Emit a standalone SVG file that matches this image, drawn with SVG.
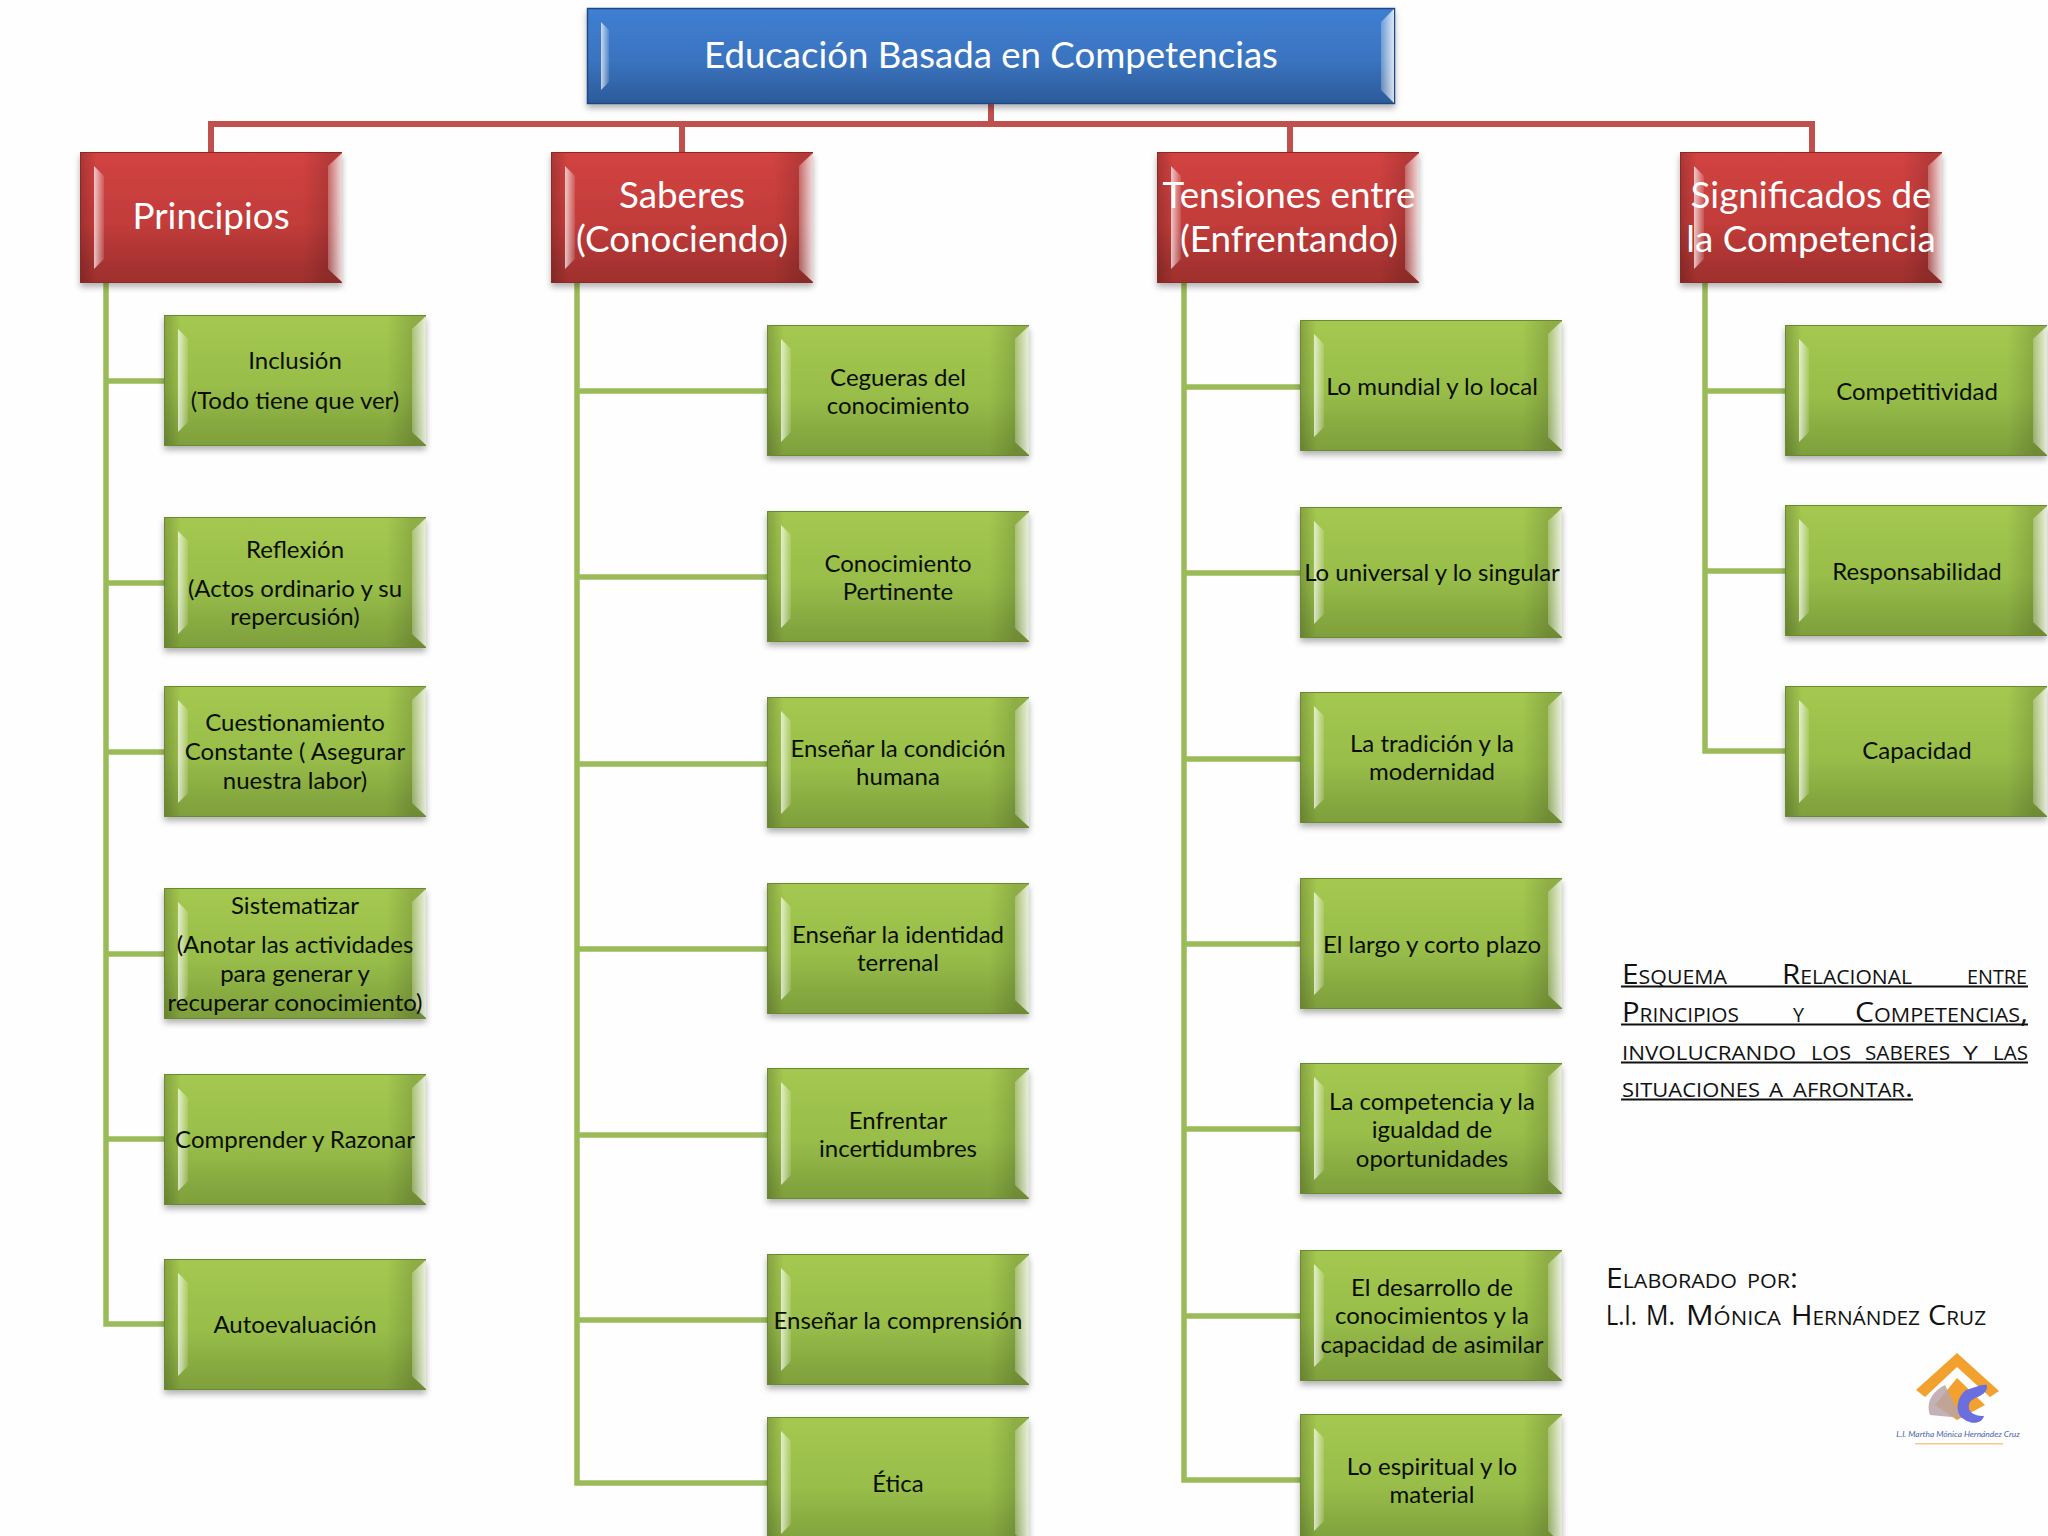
<svg xmlns="http://www.w3.org/2000/svg" width="2048" height="1536" viewBox="0 0 2048 1536">
<style>
.t{font-family:Lato,"Liberation Sans",sans-serif;text-anchor:middle}
.g text{font-size:24px;fill:#0a0f02;transform:translateY(1px)}
.r text{font-size:36.8px;fill:#fff;transform:translateY(1px)}
.b text{font-size:36.6px;fill:#fff;transform:translateY(1px)}
.red{fill:none;stroke:#c0504d;stroke-width:6}
.grn{fill:none;stroke:#9bbb59;stroke-width:5.5}
.sc{font-family:"Open Sans","Liberation Sans",sans-serif;font-variant:small-caps;font-size:28px;fill:#111}
.ul{fill:#111}
</style>
<defs>
<filter id="sh" x="-5%" y="-5%" width="110%" height="120%"><feDropShadow dx="0" dy="4" stdDeviation="3" flood-color="#000" flood-opacity=".3"/></filter>
<linearGradient id="gf" x1="0" y1="0" x2="0" y2="1"><stop offset="0" stop-color="#a4c850"/><stop offset=".55" stop-color="#98bd49"/><stop offset=".88" stop-color="#84a63f"/><stop offset="1" stop-color="#7f9f3c"/></linearGradient>
<linearGradient id="rf" x1="0" y1="0" x2="0" y2="1"><stop offset="0" stop-color="#d24341"/><stop offset=".55" stop-color="#c23c3a"/><stop offset=".88" stop-color="#a53230"/><stop offset="1" stop-color="#9f2f2d"/></linearGradient>
<linearGradient id="bf" x1="0" y1="0" x2="0" y2="1"><stop offset="0" stop-color="#3f7fd2"/><stop offset=".55" stop-color="#3a74c0"/><stop offset="1" stop-color="#2c5a98"/></linearGradient>
<linearGradient id="dk" x1="0" y1="0" x2="1" y2="0"><stop offset="0" stop-color="#000" stop-opacity=".18"/><stop offset=".06" stop-color="#000" stop-opacity="0"/><stop offset=".85" stop-color="#000" stop-opacity="0"/><stop offset=".95" stop-color="#000" stop-opacity=".13"/></linearGradient>
<linearGradient id="hlL" x1="0" y1="0" x2="1" y2="0"><stop offset="0" stop-color="#fff" stop-opacity=".72"/><stop offset="1" stop-color="#fff" stop-opacity=".12"/></linearGradient>
<linearGradient id="hlR" x1="0" y1="0" x2="1" y2="0"><stop offset="0" stop-color="#fff" stop-opacity=".25"/><stop offset="1" stop-color="#fff" stop-opacity=".82"/></linearGradient>
<g id="bev"><polygon points="14,14 24,24 24,107 14,117" fill="url(#hlL)"/><polygon points="262,1 248,14 248,117 262,130" fill="url(#hlR)"/></g>
<g id="boxG"><rect x=".5" y=".5" width="261" height="130" fill="url(#gf)" stroke="#6b8a33" filter="url(#sh)"/><rect x="1" y="1" width="260" height="129" fill="url(#dk)"/><use href="#bev"/></g>
<g id="boxR"><rect x=".5" y=".5" width="261" height="130" fill="url(#rf)" stroke="#8a2a28" filter="url(#sh)"/><rect x="1" y="1" width="260" height="129" fill="url(#dk)"/><use href="#bev"/></g>
</defs>
<rect width="2048" height="1536" fill="#fefefe"/>
<g id="connectors">
<path class="red" d="M991 104V124M211 152V124H1812V152M682 124V152M1290 124V152"/>
<path class="grn" d="M106 282V1324H164M106 381H164M106 583H164M106 752H164M106 954H164M106 1139H164"/>
<path class="grn" d="M577 282V1483H767M577 391H767M577 577H767M577 764H767M577 949H767M577 1135H767M577 1320H767"/>
<path class="grn" d="M1184 282V1480H1300M1184 387H1300M1184 573H1300M1184 759H1300M1184 944H1300M1184 1129H1300M1184 1316H1300"/>
<path class="grn" d="M1705 282V751H1785M1705 391H1785M1705 571H1785"/>
</g>
<g id="root" class="b t">
<rect x="587.5" y="8.5" width="807" height="95" fill="url(#bf)" stroke="#1f4a82" stroke-width="1.5" filter="url(#sh)"/>
<polygon points="601,22 609,30 609,82 601,90" fill="url(#hlL)"/><polygon points="1394,9 1381,22 1381,90 1394,103" fill="url(#hlR)"/>
<text x="991" y="67">Educación Basada en Competencias</text>
</g>
<g id="principios" class="r t" transform="translate(80,152)"><use href="#boxR"/><text x="131" y="76">Principios</text></g>
<g id="saberes" class="r t" transform="translate(551,152)"><use href="#boxR"/><text x="131" y="55">Saberes</text><text x="131" y="99">(Conociendo)</text></g>
<g id="tensiones" class="r t" transform="translate(1157,152)"><use href="#boxR"/><text x="132" y="55">Tensiones entre</text><text x="132" y="99">(Enfrentando)</text></g>
<g id="significados" class="r t" transform="translate(1680,152)"><use href="#boxR"/><text x="131" y="55">Significados de</text><text x="131" y="99">la Competencia</text></g>

<g id="inclusion" class="g t" transform="translate(164,315)"><use href="#boxG"/><text x="131" y="53">Inclusión</text><text x="131" y="93">(Todo tiene que ver)</text></g>
<g id="reflexion" class="g t" transform="translate(164,517)"><use href="#boxG"/><text x="131" y="40">Reflexión</text><text x="131" y="79">(Actos ordinario y su</text><text x="131" y="107">repercusión)</text></g>
<g id="cuestionamiento" class="g t" transform="translate(164,686)"><use href="#boxG"/><text x="131" y="44">Cuestionamiento</text><text x="131" y="73">Constante ( Asegurar</text><text x="131" y="102">nuestra labor)</text></g>
<g id="sistematizar" class="g t" transform="translate(164,888)"><use href="#boxG"/><text x="131" y="25">Sistematizar</text><text x="131" y="64">(Anotar las actividades</text><text x="131" y="93">para generar y</text><text x="131" y="122">recuperar conocimiento)</text></g>
<g id="comprender" class="g t" transform="translate(164,1074)"><use href="#boxG"/><text x="131" y="73">Comprender y Razonar</text></g>
<g id="autoevaluacion" class="g t" transform="translate(164,1259)"><use href="#boxG"/><text x="131" y="73">Autoevaluación</text></g>

<g id="cegueras" class="g t" transform="translate(767,325)"><use href="#boxG"/><text x="131" y="60">Cegueras del</text><text x="131" y="88">conocimiento</text></g>
<g id="pertinente" class="g t" transform="translate(767,511)"><use href="#boxG"/><text x="131" y="60">Conocimiento</text><text x="131" y="88">Pertinente</text></g>
<g id="condicion" class="g t" transform="translate(767,697)"><use href="#boxG"/><text x="131" y="59">Enseñar la condición</text><text x="131" y="87">humana</text></g>
<g id="identidad" class="g t" transform="translate(767,883)"><use href="#boxG"/><text x="131" y="59">Enseñar la identidad</text><text x="131" y="87">terrenal</text></g>
<g id="incertidumbres" class="g t" transform="translate(767,1068)"><use href="#boxG"/><text x="131" y="60">Enfrentar</text><text x="131" y="88">incertidumbres</text></g>
<g id="comprension" class="g t" transform="translate(767,1254)"><use href="#boxG"/><text x="131" y="74">Enseñar la comprensión</text></g>
<g id="etica" class="g t" transform="translate(767,1417)"><use href="#boxG"/><text x="131" y="74">Ética</text></g>

<g id="mundial" class="g t" transform="translate(1300,320)"><use href="#boxG"/><text x="132" y="74">Lo mundial y lo local</text></g>
<g id="universal" class="g t" transform="translate(1300,507)"><use href="#boxG"/><text x="132" y="73">Lo universal y lo singular</text></g>
<g id="tradicion" class="g t" transform="translate(1300,692)"><use href="#boxG"/><text x="132" y="59">La tradición y la</text><text x="132" y="87">modernidad</text></g>
<g id="plazo" class="g t" transform="translate(1300,878)"><use href="#boxG"/><text x="132" y="74">El largo y corto plazo</text></g>
<g id="igualdad" class="g t" transform="translate(1300,1063)"><use href="#boxG"/><text x="132" y="46">La competencia y la</text><text x="132" y="74">igualdad de</text><text x="132" y="103">oportunidades</text></g>
<g id="desarrollo" class="g t" transform="translate(1300,1250)"><use href="#boxG"/><text x="132" y="45">El desarrollo de</text><text x="132" y="73">conocimientos y la</text><text x="132" y="102">capacidad de asimilar</text></g>
<g id="espiritual" class="g t" transform="translate(1300,1414)"><use href="#boxG"/><text x="132" y="60">Lo espiritual y lo</text><text x="132" y="88">material</text></g>

<g id="competitividad" class="g t" transform="translate(1785,325)"><use href="#boxG"/><text x="132" y="74">Competitividad</text></g>
<g id="responsabilidad" class="g t" transform="translate(1785,505)"><use href="#boxG"/><text x="132" y="74">Responsabilidad</text></g>
<g id="capacidad" class="g t" transform="translate(1785,686)"><use href="#boxG"/><text x="132" y="72">Capacidad</text></g>

<g id="esquema">
<text class="sc" y="984"><tspan x="1622" textLength="105" lengthAdjust="spacingAndGlyphs">Esquema</tspan><tspan x="1782" textLength="130" lengthAdjust="spacingAndGlyphs">Relacional</tspan><tspan x="1967" textLength="60" lengthAdjust="spacingAndGlyphs">entre</tspan></text>
<text class="sc" y="1022"><tspan x="1622" textLength="117" lengthAdjust="spacingAndGlyphs">Principios</tspan><tspan x="1793" textLength="11" lengthAdjust="spacingAndGlyphs">y</tspan><tspan x="1855" textLength="173" lengthAdjust="spacingAndGlyphs">Competencias,</tspan></text>
<text class="sc" y="1060"><tspan x="1622" textLength="174" lengthAdjust="spacingAndGlyphs">involucrando</tspan><tspan x="1811" textLength="40" lengthAdjust="spacingAndGlyphs">los</tspan><tspan x="1865" textLength="85" lengthAdjust="spacingAndGlyphs">saberes</tspan><tspan x="1963" textLength="15" lengthAdjust="spacingAndGlyphs">y</tspan><tspan x="1993" textLength="35" lengthAdjust="spacingAndGlyphs">las</tspan></text>
<text class="sc" y="1097"><tspan x="1622" textLength="138" lengthAdjust="spacingAndGlyphs">situaciones</tspan><tspan x="1769" textLength="14" lengthAdjust="spacingAndGlyphs">a</tspan><tspan x="1793" textLength="120" lengthAdjust="spacingAndGlyphs">afrontar.</tspan></text>
<rect class="ul" x="1621" y="985.5" width="407" height="2"/><rect class="ul" x="1621" y="1023.5" width="407" height="2"/><rect class="ul" x="1621" y="1061.5" width="407" height="2"/><rect class="ul" x="1621" y="1098.5" width="292" height="2"/>
</g>
<g id="autor">
<text class="sc" y="1288"><tspan x="1606" textLength="131" lengthAdjust="spacingAndGlyphs">Elaborado</tspan><tspan x="1747" textLength="51" lengthAdjust="spacingAndGlyphs">por:</tspan></text>
<text class="sc" y="1325"><tspan x="1606" textLength="31" lengthAdjust="spacingAndGlyphs">L.I.</tspan><tspan x="1646" textLength="29" lengthAdjust="spacingAndGlyphs">M.</tspan><tspan x="1686" textLength="95" lengthAdjust="spacingAndGlyphs">Mónica</tspan><tspan x="1791" textLength="129" lengthAdjust="spacingAndGlyphs">Hernández</tspan><tspan x="1928" textLength="58" lengthAdjust="spacingAndGlyphs">Cruz</tspan></text>
</g>
<g id="logo">
<polygon points="1957,1353 1999,1391 1990,1397 1957,1367 1925,1397 1916,1390" fill="#f2a02e"/>
<polygon points="1957,1378 1985,1405 1957,1420 1935,1405" fill="#f2a02e"/>
<path d="M1930 1415C1925 1400 1935 1390 1945 1385L1955 1405L1962 1418Z" fill="#b8a5a8" opacity=".85"/>
<path d="M1987 1385C1980 1384 1975 1388 1966 1390C1958 1396 1955 1408 1960 1416C1970 1426 1982 1424 1984 1416C1972 1416 1966 1410 1970 1402C1975 1396 1988 1396 1987 1385Z" fill="#6a6fe0"/>
<text x="1958" y="1437" text-anchor="middle" font-family="Lato,sans-serif" font-size="8.4" font-style="italic" fill="#4a64b0">L.I. Martha Mónica Hernández Cruz</text>
<rect x="1915" y="1443" width="88" height="1.5" fill="#f5c98a"/>
</g>
</svg>
